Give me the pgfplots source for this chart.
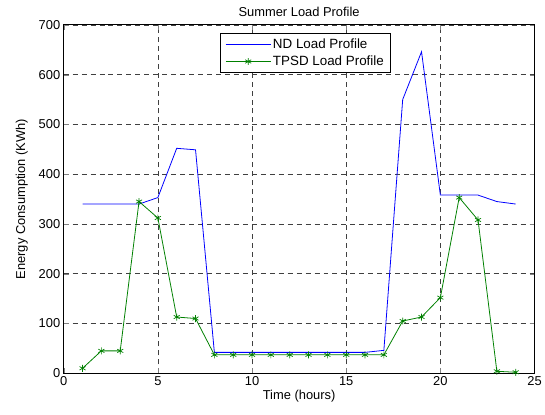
\documentclass[border=0pt]{standalone}
\usepackage{pgfplots}
\pgfplotsset{compat=1.18}
\usepackage{fontspec}
\setmainfont{Liberation Sans}
\definecolor{mblue}{rgb}{0,0,1}
\definecolor{mgreen}{rgb}{0,0.5,0}
\begin{document}
\begin{tikzpicture}
\begin{axis}[
  scale only axis,
  width=473bp, height=350bp,
  at={(0,0)}, anchor=south west,
  xmin=0, xmax=25, ymin=0, ymax=700,
  xtick={0,5,...,25}, ytick={0,100,...,700},
  tick align=inside,
  major tick length=5bp,
  axis line style={line width=0.9pt},
  grid=major,
  major grid style={black!75, dash pattern=on 5bp off 4bp, line width=0.6pt},
  /pgf/number format/assume math mode=true,
  tick label style={font=\fontsize{13}{15}\selectfont},
  label style={font=\fontsize{13}{15}\selectfont},
  title style={font=\fontsize{13}{15}\selectfont, yshift=-1bp},
  title={Summer Load Profile},
  xlabel={Time (hours)},
  ylabel={Energy Consumption (KWh)},
  xlabel style={yshift=3bp},
  ylabel style={yshift=4bp},
  legend style={at={(0.332,0.977)}, anchor=north west, draw=black, line width=0.8pt,
    font=\fontsize{13.5}{15}\selectfont, inner xsep=5bp, inner ysep=3.5bp,
    row sep=2bp, cells={anchor=west}},
  legend image code/.code={\draw[#1] (0bp,0bp) -- (45bp,0bp); \path[#1, mark repeat=2, mark phase=2] plot coordinates {(0bp,0bp) (22.5bp,0bp) (45bp,0bp)};},
  legend cell align=left,
]
\addplot[mblue, line width=0.8pt, mark=none] coordinates {
(1,340) (2,340) (3,340) (4,340) (5,353) (6,452) (7,449) (8,42) (9,42) (10,42)
(11,42) (12,42) (13,42) (14,42) (15,42) (16,42) (17,46) (18,550) (19,646) (20,358)
(21,358) (22,358) (23,345) (24,340)
};
\addlegendentry{ND Load Profile}
\addplot[mgreen, line width=0.8pt, mark=asterisk, mark size=3.5bp, mark options={solid, line width=0.7pt}] coordinates {
(1,10) (2,45) (3,45) (4,345) (5,312) (6,113) (7,110) (8,37) (9,37) (10,37)
(11,37) (12,37) (13,37) (14,37) (15,37) (16,37) (17,37) (18,105) (19,113) (20,152)
(21,353) (22,308) (23,4) (24,2)
};
\addlegendentry{TPSD Load Profile}
\end{axis}
\path (current axis.south west) ++(-64bp,-41bp) coordinate (bbA);
\path (current axis.north east) ++(8bp,25bp) coordinate (bbB);
\path (bbA) rectangle (bbB);
\end{tikzpicture}
\end{document}
